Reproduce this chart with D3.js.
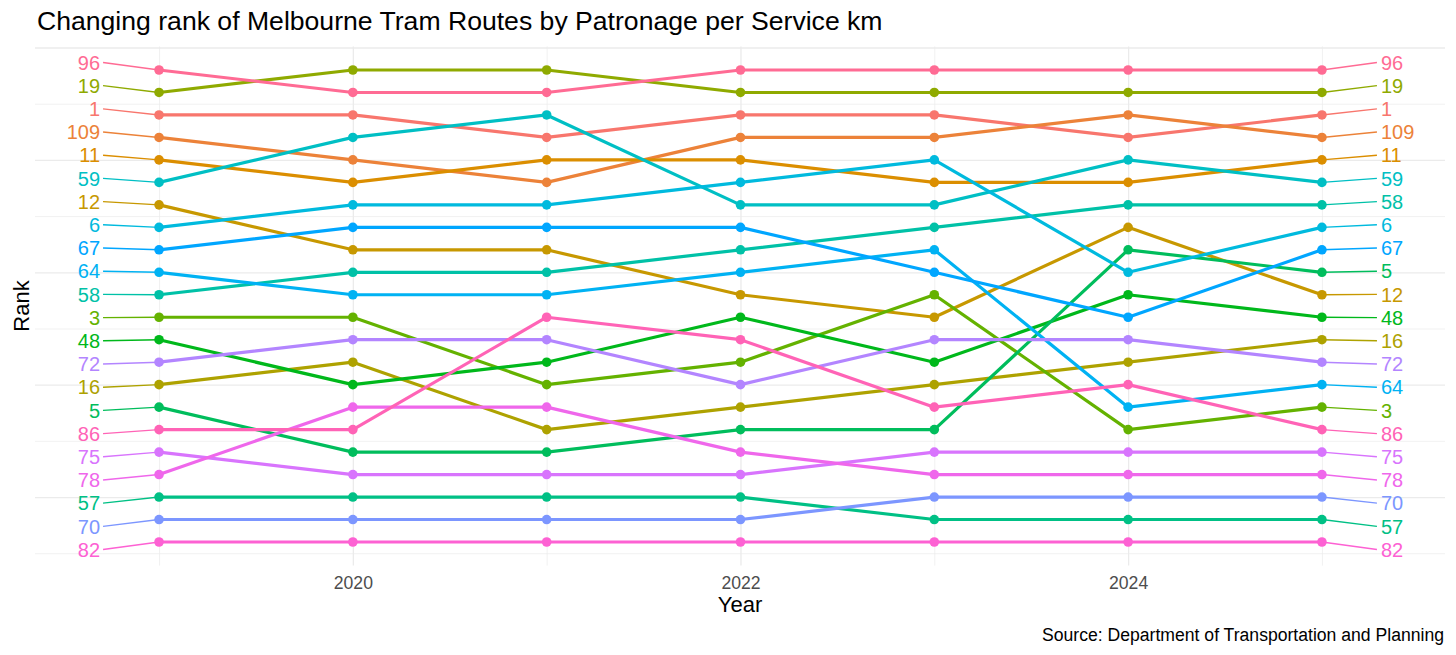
<!DOCTYPE html>
<html>
<head>
<meta charset="utf-8">
<script src="https://cdn.jsdelivr.net/npm/d3@7"></script>
<style>
  body { margin: 0; background: #fff; }
  svg text { font-family: "Liberation Sans", Arial, sans-serif; }
  .grid line { stroke: #ebebeb; }
  .grid .domain { display: none; }
</style>
</head>
<body>
<svg id="chart" width="1456" height="655"></svg>
<script>
// Bump chart: rank of each tram route by patronage per service km

const years = [2019, 2020, 2021, 2022, 2023, 2024, 2025];

// factor levels (alphabetical as strings) -> colour order
const routes = ["1", "109", "11", "12", "16", "19", "3", "48", "5", "57", "58",
                "59", "6", "64", "67", "70", "72", "75", "78", "82", "86", "96"];

// routes listed from rank 1 downwards, one list per year
const order2019 = ["96", "19", "1", "109", "11", "59", "12", "6", "67", "64", "58",
                   "3", "48", "72", "16", "5", "86", "75", "78", "57", "70", "82"];
const order2020 = ["19", "96", "1", "59", "109", "11", "6", "67", "12", "58", "64",
                   "3", "72", "16", "48", "78", "86", "5", "75", "57", "70", "82"];
const order2021 = ["19", "96", "59", "1", "11", "109", "6", "67", "12", "58", "64",
                   "86", "72", "48", "3", "78", "16", "5", "75", "57", "70", "82"];
const order2022 = ["96", "19", "1", "109", "11", "6", "59", "67", "58", "64", "12",
                   "48", "86", "3", "72", "16", "5", "78", "75", "57", "70", "82"];
const order2023 = ["96", "19", "1", "109", "6", "11", "59", "58", "64", "67", "3",
                   "12", "72", "48", "16", "86", "5", "75", "78", "70", "57", "82"];
const order2024 = ["96", "19", "109", "1", "59", "11", "58", "12", "5", "6", "48",
                   "67", "72", "16", "86", "64", "3", "75", "78", "70", "57", "82"];
const order2025 = ["96", "19", "1", "109", "11", "59", "58", "6", "67", "5", "12",
                   "48", "16", "72", "64", "3", "86", "75", "78", "70", "57", "82"];

const orders = [order2019, order2020, order2021, order2022, order2023, order2024, order2025];

const majorYears = [2020, 2022, 2024];
const minorYears = [2019, 2021, 2023, 2025];
const majorRanks = [0, 5, 10, 15, 20];
const minorRanks = [2.5, 7.5, 12.5, 17.5, 22.5];

const titleText = "Changing rank of Melbourne Tram Routes by Patronage per Service km";
const captionText = "Source: Department of Transportation and Planning";

// ggplot-style hue palette (polar LUV -> sRGB)
function hclHex(h, c, l) {
    const hr = h * Math.PI / 180;
    const U = c * Math.cos(hr), V = c * Math.sin(hr);
    const Xn = 95.047, Yn = 100, Zn = 108.883;
    const Y = l > 8 ? Yn * Math.pow((l + 16) / 116, 3) : Yn * l / 903.3;
    const t = Xn + 15 * Yn + 3 * Zn;
    const u = U / (13 * l) + 4 * Xn / t;
    const v = V / (13 * l) + 9 * Yn / t;
    const X = 9 * Y * u / (4 * v);
    const Z = -X / 3 - 5 * Y + 3 * Y / v;
    const x = X / 100, y = Y / 100, z = Z / 100;
    const lin = [
        3.240479 * x - 1.537150 * y - 0.498535 * z,
        -0.969256 * x + 1.875992 * y + 0.041556 * z,
        0.055648 * x - 0.204043 * y + 1.057311 * z
    ];
    const rgb = lin.map(c => {
        const g = c <= 0.0031308 ? 12.92 * c : 1.055 * Math.pow(c, 1 / 2.4) - 0.055;
        return Math.round(Math.max(0, Math.min(1, g)) * 255);
    });
    return d3.rgb(rgb[0], rgb[1], rgb[2]).formatHex();
}
const palette = routes.map((r, i) => hclHex(15 + i * 360 / routes.length, 100, 65));
const color = d3.scaleOrdinal().domain(routes).range(palette);

// long-form rows
const rows = [];
years.forEach((yr, i) => {
    orders[i].forEach((route, j) => rows.push({ route: route, year: yr, rank: j + 1 }));
});
const byRoute = d3.group(rows, d => d.route);

// layout
const svg = d3.select('#chart');
const panel = { left: 35, right: 1445, top: 46.4, bottom: 565.6 };

const x = d3.scaleLinear().domain([2018.36, 2025.635]).range([panel.left, panel.right]);
const y = d3.scaleLinear().domain([-0.05, 23.05]).range([panel.top, panel.bottom]);

// gridlines
svg.append('g')
    .attr('class', 'grid')
    .attr('transform', `translate(${panel.left},0)`)
    .call(d3.axisLeft(y).tickValues(minorRanks).tickSize(-(panel.right - panel.left)).tickFormat(''))
    .selectAll('line').attr('stroke-width', 0.7);
svg.append('g')
    .attr('class', 'grid')
    .attr('transform', `translate(${panel.left},0)`)
    .call(d3.axisLeft(y).tickValues(majorRanks).tickSize(-(panel.right - panel.left)).tickFormat(''))
    .selectAll('line').attr('stroke-width', 1.3);
svg.append('g')
    .attr('class', 'grid')
    .attr('transform', `translate(0,${panel.bottom})`)
    .call(d3.axisBottom(x).tickValues(minorYears).tickSize(-(panel.bottom - panel.top)).tickFormat(''))
    .selectAll('line').attr('stroke-width', 0.7);
svg.append('g')
    .attr('class', 'grid')
    .attr('transform', `translate(0,${panel.bottom})`)
    .call(d3.axisBottom(x).tickValues(majorYears).tickSize(-(panel.bottom - panel.top)).tickFormat(''))
    .selectAll('line').attr('stroke-width', 1.3);

// x axis tick labels
const xAxis = svg.append('g')
    .attr('transform', `translate(0,${panel.bottom})`)
    .call(d3.axisBottom(x).tickValues(majorYears).tickSize(0).tickPadding(0).tickFormat(d3.format('d')));
xAxis.select('.domain').remove();
xAxis.selectAll('text')
    .attr('dy', null)
    .attr('y', 23)
    .style('font-size', '17.6px')
    .attr('fill', '#4d4d4d');

// lines
const line = d3.line().x(d => x(d.year)).y(d => y(d.rank));
routes.forEach(route => {
    svg.append('path')
        .datum(byRoute.get(route))
        .attr('d', line)
        .attr('fill', 'none')
        .attr('stroke', color(route))
        .attr('stroke-width', 3.2)
        .attr('stroke-linejoin', 'round');
});

// repelled end labels: spread slightly around the middle rank
const mid = y((1 + routes.length) / 2);
const spread = 1.032;
const labelY = r => mid + (y(r) - mid) * spread;

const first = rows.filter(d => d.year === years[0]);
const last = rows.filter(d => d.year === years[years.length - 1]);
const x0 = x(years[0]), x1 = x(years[years.length - 1]);

svg.append('g').selectAll('line')
    .data(first).enter().append('line')
    .attr('x1', x0 - 56).attr('y1', d => labelY(d.rank))
    .attr('x2', x0).attr('y2', d => y(d.rank))
    .attr('stroke', d => color(d.route))
    .attr('stroke-width', 1.4);
svg.append('g').selectAll('line')
    .data(last).enter().append('line')
    .attr('x1', x1).attr('y1', d => y(d.rank))
    .attr('x2', x1 + 55).attr('y2', d => labelY(d.rank))
    .attr('stroke', d => color(d.route))
    .attr('stroke-width', 1.4);

// points
routes.forEach(route => {
    svg.append('g').selectAll('circle')
        .data(byRoute.get(route)).enter().append('circle')
        .attr('cx', d => x(d.year))
        .attr('cy', d => y(d.rank))
        .attr('r', 4.8)
        .attr('fill', color(route));
});

// labels
svg.append('g').selectAll('text')
    .data(first).enter().append('text')
    .attr('x', x0 - 59)
    .attr('y', d => labelY(d.rank))
    .attr('dy', '0.36em')
    .attr('text-anchor', 'end')
    .style('font-size', '20px')
    .attr('fill', d => color(d.route))
    .text(d => d.route);
svg.append('g').selectAll('text')
    .data(last).enter().append('text')
    .attr('x', x1 + 59)
    .attr('y', d => labelY(d.rank))
    .attr('dy', '0.36em')
    .attr('text-anchor', 'start')
    .style('font-size', '20px')
    .attr('fill', d => color(d.route))
    .text(d => d.route);

// titles
svg.append('text')
    .attr('x', 37).attr('y', 30)
    .style('font-size', '26.6px')
    .attr('fill', '#000')
    .text(titleText);

svg.append('text')
    .attr('x', (panel.left + panel.right) / 2).attr('y', 611.5)
    .attr('text-anchor', 'middle')
    .style('font-size', '22px')
    .text('Year');

svg.append('text')
    .attr('transform', `translate(29,${(panel.top + panel.bottom) / 2}) rotate(-90)`)
    .attr('text-anchor', 'middle')
    .style('font-size', '22px')
    .text('Rank');

svg.append('text')
    .attr('x', 1444).attr('y', 641)
    .attr('text-anchor', 'end')
    .style('font-size', '17.6px')
    .text(captionText);
</script>
</body>
</html>
